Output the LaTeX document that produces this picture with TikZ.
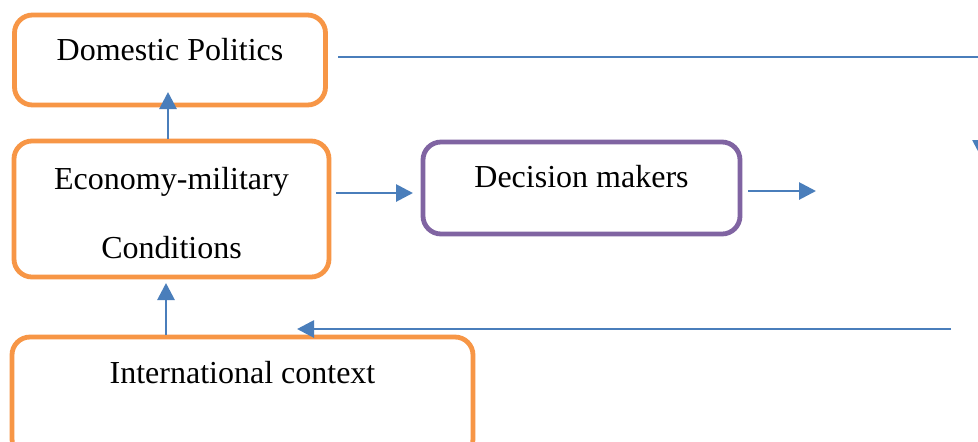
\documentclass[tikz,border=0pt]{standalone}
\usepackage{fontspec}
\setmainfont{Liberation Serif}
\usetikzlibrary{arrows.meta}
\definecolor{boxorange}{HTML}{F79646}
\definecolor{boxpurple}{HTML}{8064A2}
\definecolor{lineblue}{HTML}{4A7EBB}
\tikzset{
  obox/.style={draw=boxorange, line width=2.4pt, rounded corners=9pt, fill=white, inner sep=0pt},
  pbox/.style={draw=boxpurple, line width=2.4pt, rounded corners=9pt, fill=white, inner sep=0pt},
  txt/.style={font=\fontsize{16pt}{19pt}\selectfont, anchor=base, inner sep=0pt},
  arr/.style={draw=lineblue, line width=1.4pt, -{Triangle[length=8.5pt,width=8.5pt]}},
}
\begin{document}
\begin{tikzpicture}[x=0.5pt,y=-0.5pt]
\useasboundingbox (0,0) rectangle (978,441);
\clip (0,0) rectangle (978,441);
\fill[white] (0,0) rectangle (978,441);
% boxes
\node[obox, minimum width=155.5pt, minimum height=45pt] (dp) at (170,60) {};
\node[obox, minimum width=157.5pt, minimum height=68pt] (ec) at (171.5,209) {};
\node[obox, minimum width=230.5pt, minimum height=60pt] (ic) at (242.5,397) {};
\node[pbox, minimum width=158.5pt, minimum height=46pt] (dm) at (581.5,188) {};
% texts
\node[txt] (dpt) at (170,60) {Domestic Politics};
\node[txt] (ect1) at (171.5,189) {Economy-military};
\node[txt] (ect2) at (171.5,258) {Conditions};
\node[txt] (dmt) at (581.5,187) {Decision makers};
\node[txt] (ict) at (242.5,383) {International context};
% coordinates
\coordinate (a1s) at (168,139);
\coordinate (a1e) at (168,92);
\coordinate (a2s) at (166,335);
\coordinate (a2e) at (166,283);
\coordinate (a3s) at (336,193);
\coordinate (a3e) at (413,193);
\coordinate (a4s) at (748,191);
\coordinate (a4e) at (816,191);
\coordinate (tls) at (338,57);
\coordinate (tle) at (981,157);
\coordinate (bls) at (951,329);
\coordinate (ble) at (297,329);
% connectors
\draw[arr] (a1s) -- (a1e);
\draw[arr] (a2s) -- (a2e);
\draw[arr] (a3s) -- (a3e);
\draw[arr] (a4s) -- (a4e);
\draw[arr] (tls) -| (tle);
\draw[arr] (bls) -- (ble);
\end{tikzpicture}
\end{document}
